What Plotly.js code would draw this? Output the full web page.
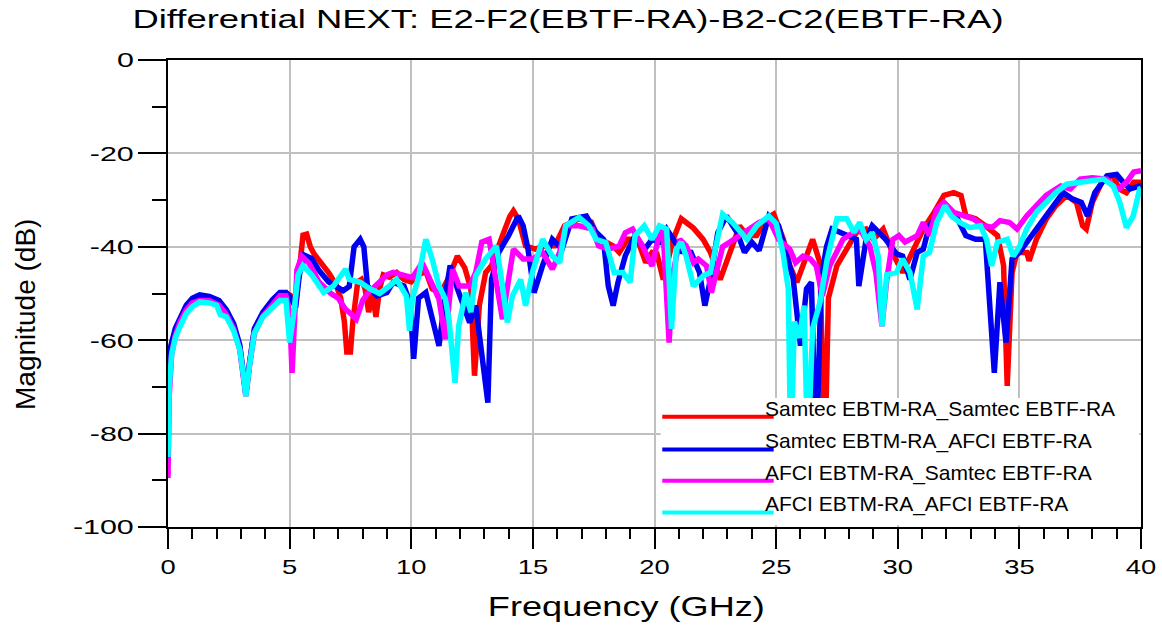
<!DOCTYPE html>
<html>
<head>
<meta charset="utf-8">
<script src="https://cdn.plot.ly/plotly-3.0.1.min.js"></script>
<style>html,body{margin:0;padding:0;background:#fff;}#chart{width:1162px;height:626px;}</style>
</head>
<body>
<div id="chart"></div>
<script>
// ---------------- DATA ----------------
const chartTitle = "Differential NEXT: E2-F2(EBTF-RA)-B2-C2(EBTF-RA)";
const xTitle = "Frequency (GHz)";
const yTitle = "Magnitude (dB)";
const seriesNames = [
  "Samtec EBTM-RA_Samtec EBTF-RA",
  "Samtec EBTM-RA_AFCI EBTF-RA",
  "AFCI EBTM-RA_Samtec EBTF-RA",
  "AFCI EBTM-RA_AFCI EBTF-RA"
];
const seriesColors = ["#ff0000", "#0000f0", "#ff00ff", "#00ffff"];

const redF = [0,0.1,0.3,0.5,0.75,1.0,1.3,1.7,2.1,2.4,2.7,2.95,3.1,3.2,3.35,3.55,3.9,4.3,4.6,4.85,5.05,5.25,5.4,5.55,5.7,5.85,6.0,6.3,6.6,6.9,7.1,7.25,7.35,7.5,7.6,7.8,7.95,8.1,8.25,8.4,8.55,8.7,8.85,9.1,9.4,9.7,10.0,10.3,10.6,10.86,11.2,11.5,11.9,12.2,12.45,12.6,12.8,13.06,13.3,13.75,14.05,14.2,14.4,14.7,15.1,15.5,15.9,16.3,16.9,17.4,17.7,18.0,18.3,18.55,18.9,19.3,19.64,19.9,20.1,20.36,20.77,21.1,21.6,22.0,22.3,22.7,23.1,23.5,23.8,24.2,24.6,24.9,25.3,25.56,25.85,26.1,26.5,26.8,27.0,27.15,27.5,27.9,28.3,28.7,29.0,29.4,29.8,30.2,30.6,31.05,31.5,31.9,32.3,32.6,32.8,33.2,33.6,34.1,34.35,34.5,34.7,34.9,35.3,35.4,35.7,36.1,36.5,36.94,37.35,37.6,37.75,38.0,38.45,38.85,39.1,39.4,39.7,40.0];
const redDB = [-67,-62,-58,-55.5,-53,-51.5,-50.8,-51,-52,-54,-57,-61.5,-67,-71.5,-65,-58,-54.5,-51.5,-50,-49.8,-50.5,-52,-45,-37.5,-37.3,-40,-41.5,-43.5,-45.5,-48,-51,-56,-62.5,-62.5,-56,-47.5,-47,-49,-54,-50,-55,-49,-46,-46.5,-45.5,-47,-47.5,-46,-45.3,-49,-50,-47,-42,-44.5,-49,-67.6,-52.5,-45.5,-44,-37.6,-33.5,-32.3,-34,-39.8,-40.5,-39.8,-39.8,-35.5,-34,-34.7,-38.4,-39,-39.8,-41.2,-38.4,-38.4,-43.4,-41.2,-41.5,-47,-38.4,-34,-36,-38.4,-41.2,-47,-41.2,-35.5,-37.6,-37.6,-34,-33,-38.4,-44,-47.6,-44,-38.4,-43.4,-86,-51,-44,-40.5,-36.9,-36.2,-38.4,-36.2,-41.5,-45.5,-41.2,-36.2,-32.6,-29,-28.4,-29,-33.4,-34,-35.5,-37.6,-44,-69.8,-45.5,-41.2,-41.2,-43,-38.4,-34.1,-31.2,-29,-30.5,-35.5,-36.2,-30.5,-25.5,-24.8,-27.6,-28.4,-26.2,-26.2];

const blueF = [0,0.1,0.3,0.5,0.75,1.0,1.3,1.7,2.1,2.4,2.7,2.95,3.1,3.2,3.35,3.55,3.9,4.3,4.6,4.85,5.05,5.25,5.4,5.6,5.9,6.2,6.6,7.0,7.2,7.45,7.65,7.9,8.05,8.2,8.6,9.0,9.25,9.7,9.95,10.1,10.3,10.6,10.85,11.14,11.4,11.6,11.9,12.4,12.65,12.9,13.15,13.3,13.6,14.0,14.4,14.6,14.8,15.05,15.4,15.8,16.2,16.6,17.2,17.6,17.9,18.1,18.3,18.5,18.8,19.2,19.6,19.9,20.2,20.5,20.77,21.1,21.5,21.85,22.07,22.3,22.6,22.96,23.4,23.7,24.0,24.3,24.7,25.1,25.4,25.7,26.0,26.25,26.45,26.65,26.85,27.07,27.3,27.9,28.3,28.4,28.7,28.95,29.5,29.95,30.2,30.5,30.8,31.05,31.3,31.6,32.0,32.4,32.8,33.2,33.6,33.97,34.2,34.45,34.7,35.0,35.6,36.0,36.4,36.8,37.2,37.55,37.8,38.1,38.6,39.0,39.27,39.55,39.8,40.0];
const blueDB = [-66,-61.5,-57.5,-55,-52.5,-51,-50.3,-50.6,-51.5,-53.5,-56.5,-61,-67,-71.5,-65,-57.5,-54,-51.3,-49.8,-49.8,-51,-53,-46,-41.8,-42.5,-45,-47.5,-49,-49.4,-48.5,-40,-38.4,-40,-48.4,-50.5,-49.8,-47.6,-48.4,-52,-64,-51,-49.8,-55.5,-61.2,-50.5,-44,-49,-56.2,-52.6,-63.4,-73.4,-47,-41.2,-37.6,-33.4,-35.5,-40.5,-49.8,-44,-38.4,-40.5,-34,-33.4,-36.9,-38.4,-48.4,-52.6,-47.6,-41.9,-37.6,-40.5,-38.4,-39,-36.2,-38.4,-41,-41.2,-45.5,-52.6,-47,-37,-33.4,-37,-41.2,-39,-40.8,-33.4,-35.5,-41.2,-46.8,-61.2,-49,-47.6,-86,-47,-40,-36.2,-37.6,-38.4,-48.4,-38.4,-35.5,-38.4,-41.5,-42,-47,-41.2,-40.5,-35.5,-33.4,-31.2,-33.4,-37.6,-38.4,-38.4,-67,-47.6,-60.5,-42.6,-41.2,-37,-34.1,-31.2,-28.4,-29.8,-30.5,-33.4,-28.4,-24.8,-24.5,-26.2,-27.6,-27.2,-26.9];

const magF = [0,0.05,0.15,0.3,0.5,0.75,1.0,1.3,1.7,2.1,2.4,2.7,2.95,3.1,3.2,3.35,3.55,3.9,4.3,4.6,4.85,5.0,5.1,5.2,5.3,5.5,5.8,6.2,6.7,7.0,7.3,7.55,7.74,8.0,8.2,8.6,9.0,9.25,9.5,10.05,10.45,10.85,11.14,11.4,11.7,11.97,12.4,12.65,12.9,13.2,13.5,13.75,14.0,14.2,14.6,15.0,15.4,15.8,16.1,16.35,16.9,17.45,17.7,18.1,18.55,18.8,19.1,19.5,19.9,20.15,20.35,20.6,20.77,21.04,21.3,21.6,21.8,22.14,22.34,22.55,22.8,23.1,23.5,23.9,24.3,24.7,25.1,25.56,25.8,26.1,26.4,26.65,26.9,27.2,27.55,27.75,28.15,28.44,28.85,29.1,29.35,29.55,29.8,30.05,30.3,30.8,31.05,31.3,31.6,31.9,32.3,32.7,33.1,33.5,33.9,34.2,34.6,34.9,35.3,35.7,36.1,36.7,37.1,37.5,38.0,38.6,38.86,39.1,39.4,39.7,40.0];
const magDB = [-89.5,-72,-63,-59,-56,-53.5,-52,-51.5,-51.5,-52.5,-54.5,-57.5,-62,-67.5,-72,-65.5,-58.5,-54.8,-52.3,-50.5,-50.5,-54,-67,-58,-45,-42,-43.5,-47.5,-50,-51,-53.4,-54.5,-55.5,-51.5,-50,-48,-46,-45.5,-45.9,-46.6,-43.4,-47.6,-51.2,-59.8,-44.8,-48.4,-48.4,-45.5,-39,-38.4,-47,-55.5,-47,-40.5,-42.6,-42.6,-41.2,-44.8,-41.2,-35.5,-35.5,-36.2,-39.8,-40.5,-39.8,-37,-36.2,-39.8,-44.1,-38.4,-36.2,-60.5,-45.5,-38.4,-39.8,-43.4,-42.6,-44.1,-49.8,-45.5,-40,-39,-37.6,-36.2,-34.8,-34,-38.4,-40.5,-43.4,-42,-42.6,-44.1,-50.5,-44.1,-40.5,-38.4,-37,-36.2,-39.8,-45.5,-57,-47,-38.4,-37.6,-39,-37.6,-34.8,-37.6,-32,-30.5,-32.6,-33.4,-34,-35.5,-35.8,-34.4,-34.8,-36.2,-33.4,-31.2,-29,-27,-27.6,-25.5,-25.2,-25.5,-27,-27.6,-26.2,-24,-23.7];

const cyanF = [0,0.05,0.15,0.3,0.5,0.75,1.0,1.3,1.7,2.0,2.15,2.4,2.7,2.95,3.1,3.2,3.35,3.55,3.9,4.3,4.6,4.85,5.0,5.15,5.35,5.55,5.9,6.4,6.8,7.1,7.3,7.45,7.9,8.3,8.7,9.1,9.4,9.8,9.93,10.05,10.3,10.6,10.86,11.14,11.4,11.55,11.8,11.95,12.24,12.45,12.65,13.06,13.5,13.75,13.95,14.16,14.5,14.7,14.98,15.4,15.8,16.1,16.35,16.9,17.3,17.6,18.0,18.34,18.7,19.0,19.2,19.58,19.9,20.2,20.5,20.7,20.9,21.1,21.3,21.6,22.0,22.3,22.55,22.8,23.2,23.8,24.2,24.7,25.0,25.28,25.5,25.6,25.75,25.95,26.15,26.3,26.5,26.8,27.1,27.5,27.9,28.2,28.44,28.7,28.95,29.2,29.35,29.55,29.95,30.2,30.5,30.8,31.05,31.3,31.6,31.94,32.2,32.55,32.97,33.4,33.65,33.86,34.1,34.5,34.75,35.0,35.3,35.7,36.1,36.5,36.94,37.5,38.05,38.45,38.86,39.13,39.4,39.68,39.95,40.0];
const cyanDB = [-85,-70,-63,-59.5,-57,-54.3,-52.8,-51.8,-52,-52.5,-54.5,-55,-58,-62,-67.5,-72,-65.5,-58.5,-55,-52.8,-51.5,-51.5,-60.5,-55,-46,-44,-46,-49.8,-48.4,-46.2,-44.8,-47,-47.6,-49,-50,-48.4,-47,-50.5,-58,-51,-46.5,-38.4,-42.6,-48.4,-51.2,-55.5,-69.1,-57,-49.8,-54,-46.2,-42.6,-39.8,-48.4,-56.2,-50.5,-47,-52.6,-45.5,-38.4,-42,-43.4,-35.5,-33.7,-35.5,-38.4,-39.1,-45.5,-45.5,-47.6,-37.6,-35.5,-38.4,-35.5,-36.2,-57.6,-40.5,-39,-42,-48.4,-46.2,-45.5,-39,-33,-34.8,-38.4,-35.5,-33.4,-35,-41.2,-49,-85,-56,-59.5,-52.6,-85,-57.5,-52,-42.6,-34,-34,-36.9,-34.8,-38.4,-37,-42,-57,-46,-45.5,-42.6,-45.5,-53.4,-42,-41.2,-34.8,-31.2,-33.4,-34.8,-35.9,-35.5,-38.4,-44.1,-39,-38.4,-42,-40,-36.2,-32.6,-30.5,-28.4,-26.6,-26.2,-25.9,-25.5,-27,-30.5,-35.9,-33.4,-27.6,-27.5];

const xTickVals = [0,5,10,15,20,25,30,35,40];
const xTickText = ["0","5","10","15","20","25","30","35","40"];
const yTickVals = [-100,-80,-60,-40,-20,0];
const yTickText = ["-100","-80","-60","-40","-20","0"];

// ---------------- TRACES ----------------
const xs = [redF, blueF, magF, cyanF];
const ys = [redDB, blueDB, magDB, cyanDB];
const traces = xs.map((x, i) => ({
  type: "scatter", mode: "lines", x: x, y: ys[i], name: seriesNames[i],
  line: {color: seriesColors[i], width: 5.5}, showlegend: false, hoverinfo: "skip"
}));

// ---------------- CUSTOM LEGEND (box + long sample lines) ----------------
const legendRowsDB = [-76.4, -83.4, -90.1, -96.9];
const FONT = "Liberation Sans, Arial, sans-serif";
const shapes = [{
  type: "rect", xref: "x", yref: "y", x0: 20.25, x1: 39.93, y0: -99.6, y1: -72.4,
  fillcolor: "#ffffff", line: {width: 0}, layer: "above"
}];
const annotations = [];
seriesNames.forEach((nm, i) => {
  shapes.push({type: "line", xref: "x", yref: "y", x0: 20.32, x1: 24.9,
    y0: legendRowsDB[i], y1: legendRowsDB[i], line: {color: seriesColors[i], width: 4}, layer: "above"});
  annotations.push({xref: "x", yref: "y", x: 24.45, y: legendRowsDB[i] + 1.75, xanchor: "left", yanchor: "middle",
    text: nm, showarrow: false, font: {family: FONT, size: 21, color: "#000"}});
});
// axis titles placed as in the reference
annotations.push({xref: "paper", yref: "paper", x: (626 - 168) / 973, y: (527 - 606) / 467,
  xanchor: "center", yanchor: "middle", text: xTitle, showarrow: false,
  font: {family: FONT, size: 28, color: "#000"}});
annotations.push({xref: "paper", yref: "paper", x: (25 - 168) / 973, y: (527 - 315) / 467,
  xanchor: "center", yanchor: "middle", text: yTitle, textangle: -90, showarrow: false,
  font: {family: FONT, size: 28, color: "#000"}});

const layout = {
  width: 1162, height: 626,
  margin: {l: 168, r: 21, t: 60, b: 99},
  paper_bgcolor: "#ffffff", plot_bgcolor: "#ffffff",
  font: {family: FONT, color: "#000"},
  title: {text: chartTitle, x: 568/1162, xanchor: "center", xref: "container",
          y: 1 - 19/626, yanchor: "middle", yref: "container",
          font: {size: 26, color: "#000"}},
  xaxis: {
    range: [0, 40], tickvals: xTickVals, ticktext: xTickText, ticks: "outside", ticklen: 20, tickwidth: 2, tickcolor: "#000",
    showline: true, linecolor: "#000", linewidth: 2, mirror: true,
    showgrid: true, gridcolor: "#c0c0c0", gridwidth: 2, zeroline: false,
    tickfont: {size: 21},
    minor: {dtick: 1, ticks: "outside", ticklen: 10, tickwidth: 2, tickcolor: "#000", showgrid: false}
  },
  yaxis: {
    range: [-100, 0], tickvals: yTickVals, ticktext: yTickText, ticks: "outside", ticklen: 28, tickwidth: 2, tickcolor: "#000",
    showline: true, linecolor: "#000", linewidth: 2, mirror: true,
    showgrid: true, gridcolor: "#c0c0c0", gridwidth: 2, zeroline: false,
    tickfont: {size: 21},
    minor: {dtick: 10, ticks: "outside", ticklen: 14, tickwidth: 2, tickcolor: "#000", showgrid: false}
  },
  shapes: shapes, annotations: annotations, showlegend: false
};

function stretchEl(t, factor) {
  try {
    const w = t.getComputedTextLength();
    if (w > 0) { t.setAttribute("textLength", (w * factor).toFixed(1)); t.setAttribute("lengthAdjust", "spacingAndGlyphs"); }
  } catch (e) {}
}
function stretch(sel, factor) { document.querySelectorAll(sel).forEach(t => stretchEl(t, factor)); }

Plotly.newPlot("chart", traces, layout, {staticPlot: true}).then(() => {
  stretch(".gtitle", 1.40);
  stretch(".xtick text", 1.3);
  stretch(".ytick text", 1.45);
  document.querySelectorAll(".annotation-text").forEach(t => {
    if (t.textContent === xTitle) stretchEl(t, 1.29);
  });
});
</script>
</body>
</html>
